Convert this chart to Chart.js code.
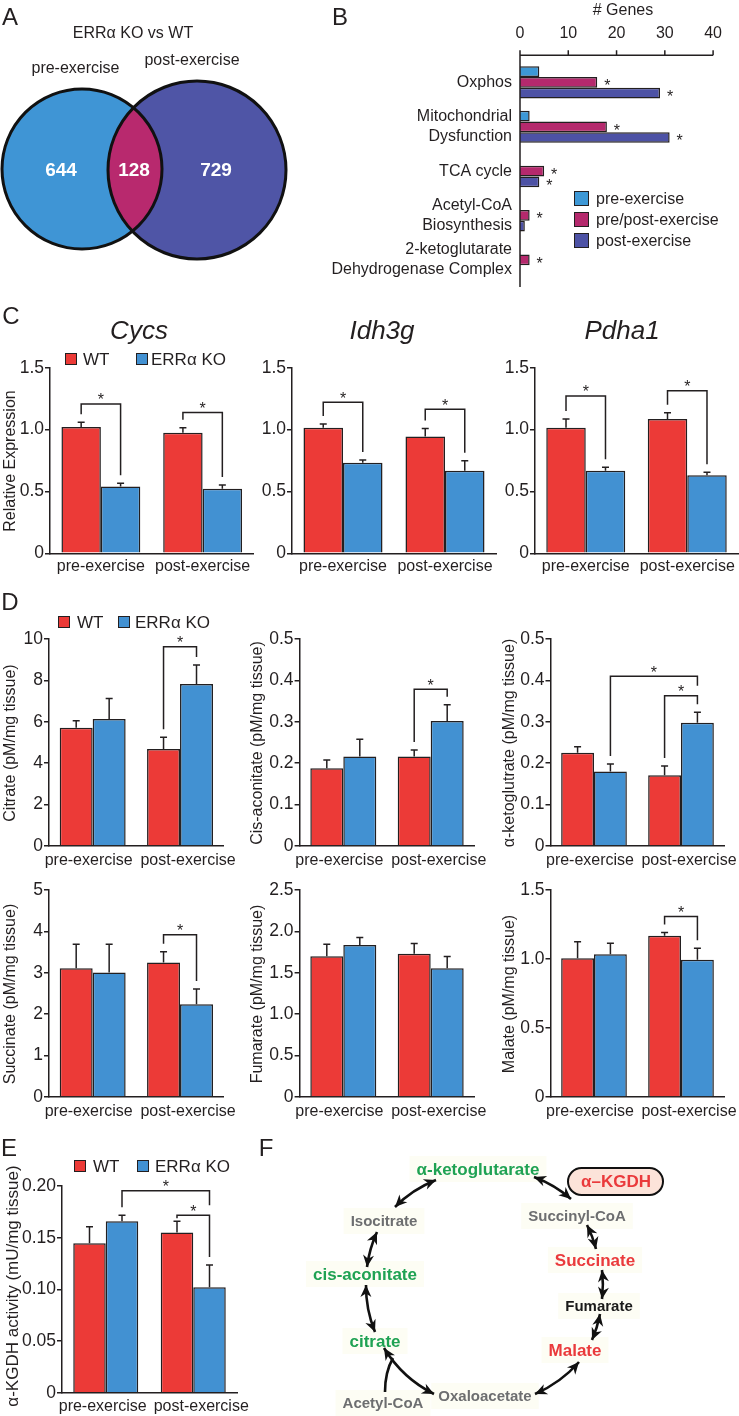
<!DOCTYPE html>
<html>
<head>
<meta charset="utf-8">
<script src="https://cdn.jsdelivr.net/npm/chart.js@4.4.1/dist/chart.umd.min.js"></script>
<style>
  html, body { margin: 0; padding: 0; overflow: hidden; background: #fff; }
  #fig { position: relative; width: 739px; height: 1416px; overflow: hidden;
         font-family: "Liberation Sans", Arial, Helvetica, sans-serif; color: #231f20; }
  #fig canvas { position: absolute; }
  .t { position: absolute; white-space: nowrap; line-height: 1; transform: translate(-50%, -50%); }
  .sq { position: absolute; box-sizing: border-box; border: 1.5px solid #231f20; }
</style>
</head>
<body>
<div id="fig"></div>
<script>
const INK = '#231f20';
const RED = '#ec3a37';
const BLUE = '#4291d2';
const FONT = '"Liberation Sans", Arial, Helvetica, sans-serif';

// ---------- data ----------
const seriesNames = ['WT', 'ERR\u03b1 KO'];
const groups = ['pre-exercise', 'post-exercise'];

// A: Venn counts (pre only, shared, post only)
const vennSets = ['pre-exercise', 'post-exercise'];
const vennCounts = [644, 128, 729];

// B: genes per pathway
const pathways = [['Oxphos'], ['Mitochondrial', 'Dysfunction'], ['TCA cycle'],
  ['Acetyl-CoA', 'Biosynthesis'], ['2-ketoglutarate', 'Dehydrogenase Complex']];
const geneSeries = ['pre-exercise', 'pre/post-exercise', 'post-exercise'];
const genesPre = [4, 2, null, null, null];
const genesBoth = [16, 18, 5, 2, 2];
const genesPost = [29, 31, 4, 1, null];
const starsPre = [false, false, false, false, false];
const starsBoth = [true, true, true, true, true];
const starsPost = [true, true, true, false, false];

// C: relative expression
const cycsWT = [1.02, 0.975], cycsWTErr = [0.04, 0.04];
const cycsKO = [0.54, 0.522], cycsKOErr = [0.026, 0.03];
const idh3gWT = [1.015, 0.943], idh3gWTErr = [0.03, 0.065];
const idh3gKO = [0.732, 0.668], idh3gKOErr = [0.022, 0.08];
const pdha1WT = [1.015, 1.085], pdha1WTErr = [0.07, 0.05];
const pdha1KO = [0.668, 0.631], pdha1KOErr = [0.027, 0.024];

// D: metabolites (pM/mg tissue)
const citrateWT = [5.71, 4.69], citrateWTErr = [0.34, 0.56];
const citrateKO = [6.13, 7.83], citrateKOErr = [1.0, 0.91];
const cisWT = [0.188, 0.216], cisWTErr = [0.02, 0.016];
const cisKO = [0.216, 0.302], cisKOErr = [0.042, 0.039];
const akgWT = [0.225, 0.171], akgWTErr = [0.015, 0.022];
const akgKO = [0.18, 0.298], akgKOErr = [0.018, 0.025];
const succWT = [3.11, 3.25], succWTErr = [0.58, 0.26];
const succKO = [3.01, 2.24], succKOErr = [0.68, 0.37];
const fumWT = [1.70, 1.73], fumWTErr = [0.145, 0.123];
const fumKO = [1.837, 1.556], fumKOErr = [0.088, 0.14];
const malWT = [1.005, 1.168], malWTErr = [0.12, 0.024];
const malKO = [1.035, 0.995], malKOErr = [0.08, 0.082];

// E: alpha-KGDH activity (mU/mg tissue)
const kgdhWT = [0.1445, 0.155], kgdhWTErr = [0.016, 0.011];
const kgdhKO = [0.166, 0.102], kgdhKOErr = [0.0056, 0.0215];

// significance brackets: from/to = [group, series], top = bracket height (value units)
const cycsSig = [{ from: [0, 0], to: [0, 1], top: 1.207 }, { from: [1, 0], to: [1, 1], top: 1.137 }];
const idh3gSig = [{ from: [0, 0], to: [0, 1], top: 1.22 }, { from: [1, 0], to: [1, 1], top: 1.164 }];
const pdha1Sig = [{ from: [0, 0], to: [0, 1], top: 1.272 }, { from: [1, 0], to: [1, 1], top: 1.314 }];
const citrateSig = [{ from: [1, 0], to: [1, 1], top: 9.63 }];
const cisSig = [{ from: [1, 0], to: [1, 1], top: 0.3785 }];
const akgSig = [{ from: [0, 1], to: [1, 1], top: 0.41 }, { from: [1, 0], to: [1, 1], top: 0.363 }];
const succSig = [{ from: [1, 0], to: [1, 1], top: 3.92 }];
const malSig = [{ from: [1, 0], to: [1, 1], top: 1.308 }];
const kgdhSig = [{ from: [0, 1], to: [1, 1], top: 0.1954 }, { from: [1, 0], to: [1, 1], top: 0.1717 }];

// F: TCA cycle nodes
const tcaNodes = [
  ['\u03b1-ketoglutarate', 478, 1169, 'green'],
  ['Isocitrate', 384, 1221, 'gray'],
  ['Succinyl-CoA', 577, 1216, 'gray'],
  ['cis-aconitate', 365, 1274, 'green'],
  ['Succinate', 595, 1260, 'red'],
  ['Fumarate', 599, 1306, 'black'],
  ['citrate', 375, 1341, 'green'],
  ['Malate', 575, 1350, 'red'],
  ['Oxaloacetate', 485, 1396, 'gray'],
  ['Acetyl-CoA', 383, 1403, 'gray']
];

const fig = document.getElementById('fig');

// ---------- helpers ----------
function txt(s, x, y, size, opts = {}) {
  const d = document.createElement('div');
  d.className = 't';
  d.textContent = s;
  d.style.left = x + 'px';
  d.style.top = y + 'px';
  d.style.fontSize = size + 'px';
  if (opts.italic) d.style.fontStyle = 'italic';
  if (opts.left) d.style.transform = 'translate(0,-50%)';
  if (opts.rot) d.style.transform = 'translate(-50%,-50%) rotate(-90deg)';
  fig.appendChild(d);
}

function box(x, y, w, h, color) {
  const d = document.createElement('div');
  d.className = 'sq';
  d.style.left = x + 'px';
  d.style.top = y + 'px';
  d.style.width = w + 'px';
  d.style.height = h + 'px';
  d.style.background = color;
  fig.appendChild(d);
}

function legend(y, sq1, t1, sq2, t2, size) {
  box(sq1, y - size / 2, size, size, RED);
  txt(seriesNames[0], t1, y, 17, { left: true });
  box(sq2, y - size / 2, size, size, BLUE);
  txt(seriesNames[1], t2, y, 17, { left: true });
}

// error bars, significance brackets and group labels
const annotPlugin = {
  id: 'annot',
  afterDatasetsDraw(chart, args, opts) {
    const ctx = chart.ctx, y = chart.scales.y, a = chart.chartArea;
    const bar = (g, s) => chart.getDatasetMeta(s).data[g];
    const errTop = (g, s) => y.getPixelForValue(chart.data.datasets[s].data[g] + opts.errors[s][g]);
    ctx.save();
    ctx.strokeStyle = INK;
    ctx.lineWidth = 1.5;
    opts.errors.forEach((errs, s) => errs.forEach((e, g) => {
      const b = bar(g, s), top = errTop(g, s);
      ctx.beginPath();
      ctx.moveTo(b.x, b.y);
      ctx.lineTo(b.x, top);
      ctx.moveTo(b.x - 3.5, top);
      ctx.lineTo(b.x + 3.5, top);
      ctx.stroke();
    }));
    const brs = opts.brackets || [];
    ctx.fillStyle = INK;
    brs.forEach(br => {
      const topY = y.getPixelForValue(br.top);
      const legEnd = ([g, s]) => {
        let end = errTop(g, s) - 8;
        brs.forEach(o => {
          if (o === br) return;
          const shares = (o.from[0] === g && o.from[1] === s) || (o.to[0] === g && o.to[1] === s);
          const oy = y.getPixelForValue(o.top);
          if (shares && oy > topY) end = Math.min(end, oy - 10);
        });
        return Math.max(end, topY + 3);
      };
      const b1 = bar(br.from[0], br.from[1]), b2 = bar(br.to[0], br.to[1]);
      ctx.beginPath();
      ctx.moveTo(b1.x, legEnd(br.from));
      ctx.lineTo(b1.x, topY);
      ctx.lineTo(b2.x, topY);
      ctx.lineTo(b2.x, legEnd(br.to));
      ctx.stroke();
      ctx.font = '16px ' + FONT;
      ctx.textAlign = 'center';
      ctx.textBaseline = 'alphabetic';
      ctx.fillText('*', (b1.x + b2.x) / 2, topY + 1.5);
    });
    // group labels under the axis (nudged apart where they would touch)
    ctx.font = '16px ' + FONT;
    ctx.textAlign = 'center';
    ctx.textBaseline = 'top';
    chart.data.labels.forEach((lab, g) => {
      const cx = (bar(g, 0).x + bar(g, 1).x) / 2 + opts.shift[g];
      ctx.fillText(lab, cx, a.bottom + opts.gap);
    });
    ctx.restore();
  }
};

// grouped WT / KO bar chart placed so its plot area lands on bx
function barChart(bx, wt, ko, errs, brackets, yMax, yStep, dec) {
  const cl = Math.round(bx.cl);
  const ct = Math.floor(bx.top - 14);
  const padTop = bx.top - ct;
  const yW = bx.left - cl;
  const xH = 30;
  const w = Math.ceil(bx.right - cl + 14);
  const h = Math.ceil(bx.bottom - ct + xH + 2);
  const cv = document.createElement('canvas');
  cv.width = w;
  cv.height = h;
  cv.style.left = cl + 'px';
  cv.style.top = ct + 'px';
  fig.appendChild(cv);
  new Chart(cv, {
    type: 'bar',
    data: {
      labels: groups,
      datasets: [
        { label: seriesNames[0], data: wt, backgroundColor: RED, borderColor: INK, borderWidth: 1.5 },
        { label: seriesNames[1], data: ko, backgroundColor: BLUE, borderColor: INK, borderWidth: 1.5 }
      ]
    },
    options: {
      responsive: false,
      animation: false,
      events: [],
      layout: { padding: { left: 0, top: padTop, right: w - (bx.right - cl), bottom: h - (bx.bottom - ct) - xH } },
      datasets: { bar: { categoryPercentage: bx.cat, barPercentage: 1 } },
      plugins: {
        legend: { display: false },
        tooltip: { enabled: false },
        annot: { errors: errs, brackets: brackets, shift: bx.shift || [0, 0], gap: bx.gap || 5 }
      },
      scales: {
        x: {
          grid: { display: false, drawTicks: false },
          border: { color: INK, width: 1.5 },
          ticks: { display: false },
          afterFit: s => { s.height = xH; }
        },
        y: {
          min: 0,
          max: yMax,
          ticks: {
            stepSize: yStep, color: INK, padding: 1,
            font: { family: FONT, size: 17.5 },
            callback: v => (v === 0 ? '0' : v.toFixed(dec))
          },
          grid: { drawOnChartArea: false, tickLength: 5, color: INK, lineWidth: 1.5 },
          border: { color: INK, width: 1.5 },
          afterFit: s => { s.width = yW; }
        }
      }
    },
    plugins: [annotPlugin]
  });
}

// ---------- diagrams (A, F) ----------
const bg = document.createElement('canvas');
bg.width = 739;
bg.height = 1416;
bg.style.left = '0px';
bg.style.top = '0px';
fig.appendChild(bg);
const g = bg.getContext('2d');

function drawVenn() {
  const L = { x: 82, y: 169, r: 80 }, R = { x: 197, y: 170, r: 89 };
  const circ = c => { g.beginPath(); g.arc(c.x, c.y, c.r, 0, Math.PI * 2); };
  g.fillStyle = '#3f95d5'; circ(L); g.fill();
  g.fillStyle = '#4f55a6'; circ(R); g.fill();
  g.save(); circ(L); g.clip();
  g.fillStyle = '#b8296e'; circ(R); g.fill();
  g.restore();
  g.strokeStyle = '#111'; g.lineWidth = 3;
  circ(L); g.stroke();
  circ(R); g.stroke();
  g.fillStyle = '#fff';
  g.font = 'bold 19px ' + FONT;
  g.textAlign = 'center';
  g.textBaseline = 'middle';
  [[61, 171], [134, 171], [216, 171]].forEach((p, i) => g.fillText(String(vennCounts[i]), p[0], p[1]));
}

function drawPathway() {
  const colors = { green: '#1fa253', red: '#ea3a3c', gray: '#6d6e70', black: '#1a1a1a' };
  const sizes = { green: 17, red: 17, gray: 15, black: 15 };
  g.textAlign = 'center';
  g.textBaseline = 'middle';
  tcaNodes.forEach(([label, x, y, c]) => {
    g.font = 'bold ' + sizes[c] + 'px ' + FONT;
    const w = g.measureText(label).width;
    g.fillStyle = '#fdfdf4';
    g.fillRect(x - w / 2 - 7, y - 13, w + 14, 26);
  });
  const C = { x: 485, y: 1283 };
  const d = (a, b) => Math.hypot(a[0] - b.x, a[1] - b.y);
  const head = (x, y, ang) => {
    const L = 12, W = 5.5;
    const bx = x - L * Math.cos(ang), by = y - L * Math.sin(ang);
    g.beginPath();
    g.moveTo(x, y);
    g.lineTo(bx + W * Math.sin(ang), by - W * Math.cos(ang));
    g.lineTo(x - 0.7 * L * Math.cos(ang), y - 0.7 * L * Math.sin(ang));
    g.lineTo(bx - W * Math.sin(ang), by + W * Math.cos(ang));
    g.closePath();
    g.fill();
  };
  const arrows = [
    [[395, 1207], [436, 1180]],
    [[534, 1177], [571, 1199]],
    [[587, 1225], [596, 1249]],
    [[602, 1270], [602, 1299]],
    [[600, 1314], [592, 1340]],
    [[579, 1362], [535, 1394]],
    [[434, 1394], [384, 1348]],
    [[375, 1332], [366, 1285]],
    [[367, 1267], [377, 1232]]
  ];
  g.strokeStyle = '#111';
  g.fillStyle = '#111';
  g.lineWidth = 2.6;
  arrows.forEach(([p1, p2]) => {
    const m = { x: (p1[0] + p2[0]) / 2, y: (p1[1] + p2[1]) / 2 };
    const r = (d(p1, C) + d(p2, C)) / 2;
    const dm = Math.hypot(m.x - C.x, m.y - C.y);
    const s = r - dm;
    const cx = m.x + 2 * s * (m.x - C.x) / dm, cy = m.y + 2 * s * (m.y - C.y) / dm;
    g.beginPath();
    g.moveTo(p1[0], p1[1]);
    g.quadraticCurveTo(cx, cy, p2[0], p2[1]);
    g.stroke();
    head(p2[0], p2[1], Math.atan2(p2[1] - cy, p2[0] - cx));
    head(p1[0], p1[1], Math.atan2(p1[1] - cy, p1[0] - cx));
  });
  // acetyl-CoA feeding into citrate
  g.beginPath();
  g.moveTo(385, 1392);
  g.quadraticCurveTo(385, 1372, 393, 1358);
  g.stroke();
  // labels
  tcaNodes.forEach(([label, x, y, c]) => {
    g.font = 'bold ' + sizes[c] + 'px ' + FONT;
    g.fillStyle = colors[c];
    g.fillText(label, x, y + 1);
  });
  // alpha-KGDH pill
  g.beginPath();
  g.roundRect(568, 1168, 95, 27, 13.5);
  g.fillStyle = '#fce3d9';
  g.fill();
  g.lineWidth = 2;
  g.strokeStyle = '#111';
  g.stroke();
  g.fillStyle = colors.red;
  g.font = 'bold 17px ' + FONT;
  g.fillText('\u03b1\u2013KGDH', 616, 1182.5);
}

drawVenn();
drawPathway();

// ---------- B: genes per pathway ----------
const genesPlugin = {
  id: 'genesAxes',
  afterDatasetsDraw(chart, args, opts) {
    const { ctx, chartArea: a, scales: { x } } = chart;
    const y0 = a.top - 5;
    ctx.save();
    ctx.strokeStyle = INK;
    ctx.lineWidth = 1.5;
    ctx.beginPath();
    ctx.moveTo(a.left, a.bottom + 5);
    ctx.lineTo(a.left, y0);
    ctx.lineTo(a.right, y0);
    x.ticks.forEach(t => {
      const px = x.getPixelForValue(t.value);
      ctx.moveTo(px, y0);
      ctx.lineTo(px, y0 - 5);
    });
    ctx.stroke();
    ctx.fillStyle = INK;
    ctx.font = '16px ' + FONT;
    ctx.textAlign = 'center';
    opts.stars.forEach((flags, s) => flags.forEach((f, i) => {
      if (!f) return;
      const b = chart.getDatasetMeta(s).data[i];
      ctx.fillText('*', b.x + 10, b.y + 9);
    }));
    ctx.restore();
  }
};

(function () {
  const cv = document.createElement('canvas');
  cv.width = 419;
  cv.height = 300;
  cv.style.left = '320px';
  cv.style.top = '0px';
  fig.appendChild(cv);
  const cols = ['#3d98d6', '#b5296d', '#4d52a5'];
  new Chart(cv, {
    type: 'bar',
    data: {
      labels: pathways,
      datasets: [genesPre, genesBoth, genesPost].map((d, i) => ({
        label: geneSeries[i], data: d, backgroundColor: cols[i], borderColor: INK, borderWidth: 1.5
      }))
    },
    options: {
      indexAxis: 'y',
      responsive: false,
      animation: false,
      events: [],
      layout: { padding: { left: 0, top: 0, right: 12, bottom: 12.25 } },
      datasets: { bar: { categoryPercentage: 0.725, barPercentage: 1 } },
      plugins: { legend: { display: false }, tooltip: { enabled: false }, genesAxes: { stars: [starsPre, starsBoth, starsPost] } },
      scales: {
        x: {
          position: 'top', min: 0, max: 40,
          ticks: { stepSize: 10, padding: 17, color: INK, font: { family: FONT, size: 16 } },
          grid: { display: false, drawTicks: false },
          border: { display: false },
          afterFit: s => { s.height = 60.25; }
        },
        y: {
          ticks: { padding: 8, color: INK, font: { family: FONT, size: 16, lineHeight: 1.25 } },
          grid: { display: false, drawTicks: false },
          border: { display: false },
          afterFit: s => { s.width = 200; }
        }
      }
    },
    plugins: [genesPlugin]
  });
})();

// ---------- C ----------
barChart({ cl: 0, left: 50, top: 367.7, right: 253.5, bottom: 553.3, cat: 0.775, gap: 5.5 },
  cycsWT, cycsKO, [cycsWTErr, cycsKOErr], cycsSig, 1.5, 0.5, 1);
barChart({ cl: 242, left: 292, top: 367.7, right: 496, bottom: 553.3, cat: 0.775, gap: 5.5 },
  idh3gWT, idh3gKO, [idh3gWTErr, idh3gKOErr], idh3gSig, 1.5, 0.5, 1);
barChart({ cl: 485, left: 535, top: 367.7, right: 738, bottom: 553.3, cat: 0.778, gap: 5.5 },
  pdha1WT, pdha1KO, [pdha1WTErr, pdha1KOErr], pdha1Sig, 1.5, 0.5, 1);

// ---------- D ----------
const dCols = [{ cl: 0, left: 49, right: 223.7 }, { cl: 247, left: 299.6, right: 474.4 }, { cl: 499, left: 550.5, right: 724.5 }];
const dRows = [{ top: 639, bottom: 846 }, { top: 890, bottom: 1097 }];
const dBox = (c, r) => Object.assign({ cat: 0.755, shift: [-4, 8], gap: 6.5 }, dCols[c], dRows[r]);
barChart(dBox(0, 0), citrateWT, citrateKO, [citrateWTErr, citrateKOErr], citrateSig, 10, 2, 0);
barChart(dBox(1, 0), cisWT, cisKO, [cisWTErr, cisKOErr], cisSig, 0.5, 0.1, 1);
barChart(dBox(2, 0), akgWT, akgKO, [akgWTErr, akgKOErr], akgSig, 0.5, 0.1, 1);
barChart(dBox(0, 1), succWT, succKO, [succWTErr, succKOErr], succSig, 5, 1, 0);
barChart(dBox(1, 1), fumWT, fumKO, [fumWTErr, fumKOErr], [], 2.5, 0.5, 1);
barChart(dBox(2, 1), malWT, malKO, [malWTErr, malKOErr], malSig, 1.5, 0.5, 1);

// ---------- E ----------
barChart({ cl: 2, left: 62, top: 1186, right: 237, bottom: 1392.7, cat: 0.743, shift: [-3, 8], gap: 6 },
  kgdhWT, kgdhKO, [kgdhWTErr, kgdhKOErr], kgdhSig, 0.2, 0.05, 2);

// ---------- text ----------
txt('A', 10, 17, 24);
txt('B', 340, 17, 24);
txt('C', 11, 316, 24);
txt('D', 10, 602, 24);
txt('E', 9, 1148, 24);
txt('F', 266, 1148, 24);

txt('ERR\u03b1 KO vs WT', 133, 33, 16);
txt(vennSets[0], 75.5, 68, 16);
txt(vennSets[1], 192, 60, 16);

txt('# Genes', 623, 9.5, 16);
[0, 1, 2].forEach(i => {
  box(574, 191 + i * 21, 15, 15, ['#3d98d6', '#b5296d', '#4d52a5'][i]);
  txt(geneSeries[i], 596, 198.5 + i * 21, 16, { left: true });
});

txt('Cycs', 139, 330, 26, { italic: true });
txt('Idh3g', 382, 330, 26, { italic: true });
txt('Pdha1', 622, 330, 26, { italic: true });
legend(359, 65, 83, 136, 151, 12);
legend(622, 58, 77, 118, 135, 12);
legend(1166, 74, 93, 137, 155, 12);

txt('Relative Expression', 9.6, 460.5, 16, { rot: true });
txt('Citrate (pM/mg tissue)', 9.6, 742.5, 16, { rot: true });
txt('Cis-aconitate (pM/mg tissue)', 256.6, 742.5, 16, { rot: true });
txt('\u03b1-ketoglutrate (pM/mg tissue)', 508.6, 742.5, 16, { rot: true });
txt('Succinate (pM/mg tissue)', 9.6, 993.5, 16, { rot: true });
txt('Fumarate (pM/mg tissue)', 256.6, 993.5, 16, { rot: true });
txt('Malate (pM/mg tissue)', 508.6, 993.5, 16, { rot: true });
txt('\u03b1-KGDH activity (mU/mg tissue)', 12, 1286, 17, { rot: true });
</script>
</body>
</html>
